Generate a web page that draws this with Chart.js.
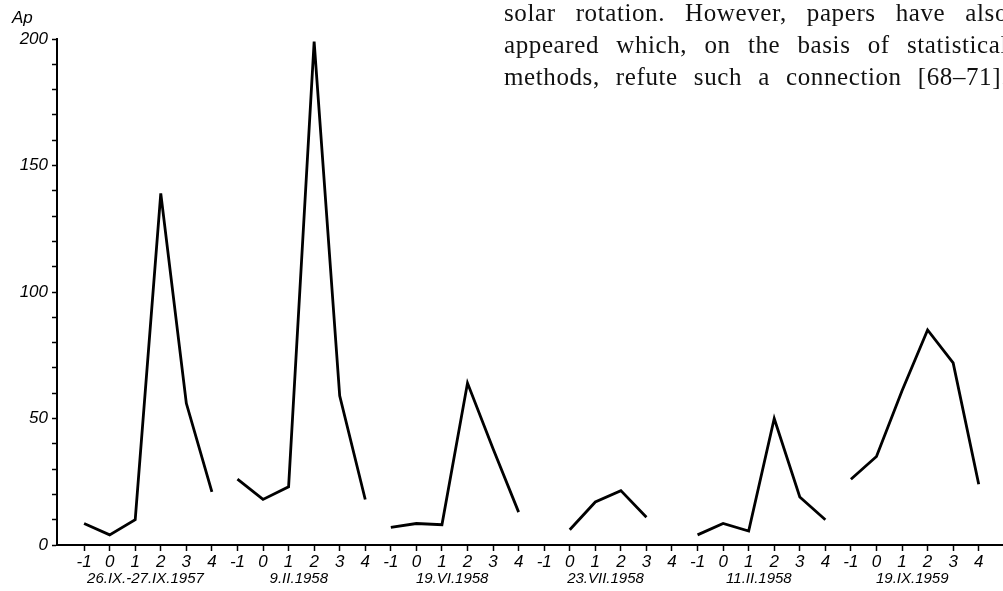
<!DOCTYPE html>
<html>
<head>
<meta charset="utf-8">
<script src="https://cdn.jsdelivr.net/npm/chart.js@4.4.1/dist/chart.umd.min.js"></script>
<style>
  html, body { margin: 0; padding: 0; background: #fff; overflow: hidden; }
  #wrap { position: relative; width: 1003px; height: 591px; }
  #myChart { position: absolute; left: 0; top: 0; }
  #note {
    position: absolute; left: 504px; top: -3px; width: 504px;
    font-family: "Liberation Serif", serif; font-size: 25px; line-height: 32px;
    letter-spacing: 0.6px;
    color: #111; text-align: justify; text-align-last: justify;
  }
</style>
</head>
<body>
<div id="wrap">
  <canvas id="myChart" width="1003" height="591"></canvas>
  <div id="note">
    <div>solar rotation. However, papers have also</div>
    <div>appeared which, on the basis of statistical</div>
    <div>methods, refute such a connection [68&#8211;71].</div>
  </div>
</div>
<script>
// days relative to the event, repeated for every event
const offsets = ["-1", "0", "1", "2", "3", "4"];
const dates = ["26.IX.-27.IX.1957", "9.II.1958", "19.VI.1958", "23.VII.1958", "11.II.1958", "19.IX.1959"];

// Ap index per day
const sep1957 = [8.5, 4, 10, 139, 56, 21];
const feb1958 = [26, 18, 23, 199, 59, 18];
const jun1958 = [7, 8.5, 8, 64, 38, 13];
const jul1958 = [null, 6, 17, 21.5, 11, null];
const feb1958b = [4, 8.5, 5.5, 50, 19, 10];
const sep1959 = [26, 35, 61, 85, 72, 24];

const series = [sep1957, feb1958, jun1958, jul1958, feb1958b, sep1959];
const positions = [];
series.forEach((s, g) => offsets.forEach((o, i) => positions.push(g * offsets.length + i)));

const datasets = series.map((vals, g) => ({
    data: vals.map((v, i) => ({ x: g * offsets.length + i, y: v })),
    borderColor: "#000",
    borderWidth: 2.8,
    pointRadius: 0,
    tension: 0,
    spanGaps: false
}));

const annotate = {
    id: "annotate",
    afterDraw(chart) {
        const ctx = chart.ctx;
        const x = chart.scales.x;
        ctx.save();
        ctx.fillStyle = "#000";
        ctx.font = 'italic 15px "Liberation Sans"';
        ctx.textAlign = "center";
        ctx.textBaseline = "middle";
        dates.forEach((d, g) => ctx.fillText(d, x.getPixelForValue(g * offsets.length + 2.4), 579));
        ctx.textAlign = "left";
        ctx.font = 'italic 17px "Liberation Sans"';
        ctx.fillText("Ap", 12, 18);
        ctx.restore();
    }
};

const tickFont = { family: "Liberation Sans", style: "italic", size: 17 };

new Chart(document.getElementById("myChart").getContext("2d"), {
    type: "line",
    data: { datasets: datasets },
    plugins: [annotate],
    options: {
        responsive: false,
        animation: false,
        layout: { padding: { top: 39, right: 0, left: 0, bottom: 0 } },
        plugins: { legend: { display: false }, tooltip: { enabled: false } },
        scales: {
            x: {
                type: "linear",
                min: -1.06,
                max: 35.95,
                afterBuildTicks: scale => { scale.ticks = positions.map(v => ({ value: v })); },
                afterFit: scale => { scale.height = 46; },
                border: { display: true, color: "#000", width: 2 },
                grid: { drawOnChartArea: false, drawTicks: true, tickLength: 6, color: "#000", tickWidth: 1.5 },
                ticks: {
                    autoSkip: false, maxRotation: 0, padding: 1, color: "#000",
                    font: tickFont,
                    callback: v => offsets[v % offsets.length]
                }
            },
            y: {
                min: 0,
                max: 200,
                afterFit: scale => { scale.width = 57; },
                border: { display: true, color: "#000", width: 2 },
                grid: { drawOnChartArea: false, drawTicks: true, tickLength: 5, color: "#000", tickWidth: 1.5 },
                ticks: {
                    stepSize: 10, padding: 4, color: "#000",
                    font: tickFont,
                    callback: v => (v % 50 === 0 ? v : "")
                }
            }
        }
    }
});
</script>
</body>
</html>
